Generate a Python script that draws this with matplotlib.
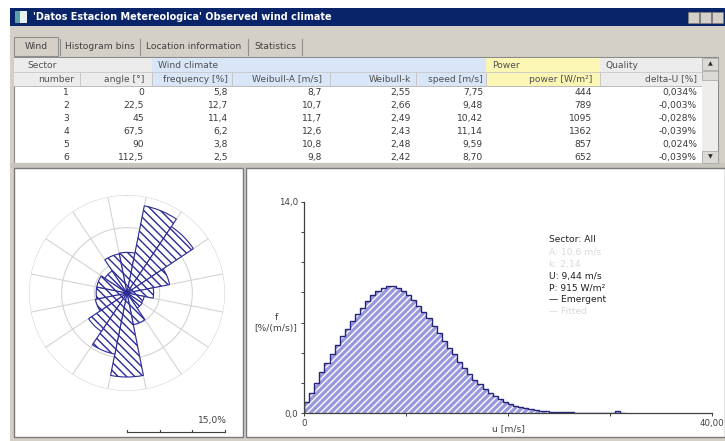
import matplotlib
matplotlib.use('Agg')
import matplotlib.pyplot as plt
import numpy as np
from matplotlib.patches import Rectangle

W, H = 725, 441

window_title = "'Datos Estacion Metereologica' Observed wind climate"
tab_names = ['Wind', 'Histogram bins', 'Location information', 'Statistics']
tab_centres = [36, 100, 194, 275]

# sector table (first six rows visible)
sector_angle = [0, 22.5, 45, 67.5, 90, 112.5]
weibull_a = [8.7, 10.7, 11.7, 12.6, 10.8, 9.8]
weibull_k = [2.55, 2.66, 2.49, 2.43, 2.48, 2.42]
mean_speed = [7.75, 9.48, 10.42, 11.14, 9.59, 8.70]
power_density = [444, 789, 1095, 1362, 857, 652]
delta_u = [0.034, -0.003, -0.028, -0.039, 0.024, -0.039]

# frequency of all 16 sectors [%]
sector_freq = [5.8, 12.7, 11.4, 6.2, 3.8, 2.5, 2.6, 4.6,
               12.0, 8.9, 6.6, 4.6, 4.4, 4.4, 3.8, 5.7]

# all-sector speed histogram, 0.5 m/s bins [%/(m/s)]
bin_width = 0.5
hist_freq = [0.7, 1.3, 2.0, 2.7, 3.3, 3.9, 4.5, 5.1, 5.6, 6.1,
             6.6, 7.0, 7.4, 7.8, 8.1, 8.3, 8.4, 8.4, 8.3, 8.1,
             7.8, 7.5, 7.1, 6.7, 6.3, 5.8, 5.3, 4.8, 4.3, 3.9,
             3.4, 3.0, 2.6, 2.2, 1.9, 1.6, 1.35, 1.1, 0.9, 0.75,
             0.6, 0.48, 0.38, 0.3, 0.24, 0.18, 0.14, 0.11, 0.09, 0.07,
             0.05, 0.08, 0.04, 0.03, 0.0, 0.0, 0.0, 0.0, 0.0, 0.0,
             0.0, 0.12, 0.0]

summary_lines = [('Sector: All', '#202020'), ('A: 10,6 m/s', '#d9d9d9'),
                 ('k: 2,14', '#d9d9d9'), ('U: 9,44 m/s', '#202020'),
                 ('P: 915 W/m\u00b2', '#202020'), ('\u2014 Emergent', '#202020'),
                 ('\u2014 Fitted', '#d9d9d9')]

plt.rcParams['font.family'] = ['DejaVu Sans']
FS = 6.6


def comma(v, d):
    return f'{v:.{d}f}'.replace('.', ',')


def px2fig(x0, y0, x1, y1):
    return [x0 / W, 1 - y1 / H, (x1 - x0) / W, (y1 - y0) / H]


fig = plt.figure(figsize=(W / 100, H / 100), dpi=100)
fig.patch.set_facecolor('white')
bg = fig.add_axes([0, 0, 1, 1])
bg.set_xlim(0, W)
bg.set_ylim(H, 0)
bg.axis('off')


def rect(x0, y0, x1, y1, fc, ec='none', lw=0.8, z=1):
    bg.add_patch(Rectangle((x0, y0), x1 - x0, y1 - y0, facecolor=fc,
                           edgecolor=ec, lw=lw, zorder=z))


def txt(x, y, s, ha='right', color='#3a3a3a', size=FS, **kw):
    bg.text(x, y, s, ha=ha, va='center', fontsize=size, color=color, zorder=5, **kw)


# window frame and title bar
rect(10, 8, W, H, '#d4d0c8')
rect(10, 8, W, 26, '#0a246a')
rect(15, 11, 27, 23, '#5aa0a8')
rect(20, 11, 27, 23, '#e8f0f0')
bg.text(33, 17, window_title, ha='left', va='center', fontsize=7,
        fontweight='bold', color='white', zorder=5)
for bx in (688, 700, 712):
    rect(bx, 12, bx + 11, 23, '#d4d0c8', ec='#808080', lw=0.6, z=2)

# tabs
rect(14, 37, 58, 56, '#d4d0c8', ec='#909090', lw=0.8, z=2)
for name, cx in zip(tab_names, tab_centres):
    txt(cx, 46.5, name, ha='center', color='#404040')
for sx in (60, 140, 248, 302):
    bg.plot([sx, sx], [39, 55], color='#909090', lw=0.8, zorder=3)

# table
rect(14, 57, 718, 163, 'white', ec='#8a8a8a', lw=0.8, z=2)
rect(14, 58, 152, 86, '#ececec', z=2)
rect(152, 58, 486, 86, '#d9e6f7', z=2)
rect(486, 58, 600, 86, '#fcf6b4', z=2)
rect(600, 58, 702, 86, '#ececec', z=2)
bg.plot([14, 702], [72, 72], color='#c8c8c8', lw=0.6, zorder=3)
bg.plot([14, 702], [86, 86], color='#b0b0b0', lw=0.6, zorder=3)
for sx in (80, 152, 232, 330, 416, 486, 600):
    bg.plot([sx, sx], [73, 85], color='#c0c0c0', lw=0.6, zorder=3)
txt(27, 65, 'Sector', ha='left', color='#505050')
txt(158, 65, 'Wind climate', ha='left', color='#505050')
txt(492, 65, 'Power', ha='left', color='#505050')
txt(606, 65, 'Quality', ha='left', color='#505050')

col_right = [74, 144, 228, 322, 411, 483, 592, 697]
headers = ['number', 'angle [\u00b0]', 'frequency [%]', 'Weibull-A [m/s]',
           'Weibull-k', 'speed [m/s]', 'power [W/m\u00b2]', 'delta-U [%]']
for x, h in zip(col_right, headers):
    txt(x, 79, h, color='#505050')

for i in range(len(sector_angle)):
    y = 92.5 + 13 * i
    row = [str(i + 1), f'{sector_angle[i]:g}'.replace('.', ','),
           comma(sector_freq[i], 1), comma(weibull_a[i], 1),
           comma(weibull_k[i], 2), comma(mean_speed[i], 2),
           str(power_density[i]), comma(delta_u[i], 3) + '%']
    for x, s in zip(col_right, row):
        txt(x if x != 74 else 69, y, s)

# scrollbar
rect(702, 58, 718, 163, '#eeede9', z=3)
rect(702, 58, 718, 70, '#dcdad4', ec='#a0a0a0', lw=0.5, z=4)
rect(702, 71, 718, 80, '#dcdad4', ec='#a0a0a0', lw=0.5, z=4)
rect(702, 151, 718, 163, '#dcdad4', ec='#a0a0a0', lw=0.5, z=4)
txt(710, 64, '\u25b2', ha='center', size=4.5, color='#303030')
txt(710, 157, '\u25bc', ha='center', size=4.5, color='#303030')

# lower panels
rect(10, 163, W, 168, '#c8c5bd', z=2)
rect(14, 168, 243, 437, 'white', ec='#7a7a7a', lw=1.0, z=2)
rect(246, 168, W, 437, 'white', ec='#7a7a7a', lw=1.0, z=2)

# wind rose
cx, cy, rad = 127, 293, 98
r_max = 14.0
ax_r = fig.add_axes(px2fig(cx - rad, cy - rad, cx + rad, cy + rad), projection='polar')
ax_r.set_facecolor('none')
ax_r.set_theta_zero_location('N')
ax_r.set_theta_direction(-1)
n_sec = len(sector_freq)
theta = np.deg2rad(np.arange(n_sec) * 360 / n_sec)
ax_r.bar(theta, sector_freq, width=2 * np.pi / n_sec, bottom=0,
         facecolor='white', edgecolor='#2a2a96', hatch='\\\\\\\\', linewidth=0.8)
ax_r.set_ylim(0, r_max)
ax_r.set_rgrids(np.linspace(0, r_max, 4)[1:], labels=[])
ax_r.set_thetagrids(np.arange(11.25, 360, 22.5), labels=[])
ax_r.grid(color='#d4d4d4', lw=0.8)
ax_r.set_axisbelow(True)
ax_r.spines['polar'].set_visible(False)

# rose scale bar
bg.plot([cx, cx + rad], [432, 432], color='#404040', lw=0.8, zorder=5)
for t in np.linspace(cx, cx + rad, 4):
    bg.plot([t, t], [429.5, 432], color='#404040', lw=0.8, zorder=5)
txt(cx + rad + 2, 420, '15,0%', color='#404040')

# speed histogram
ax_h = fig.add_axes(px2fig(304, 202, 712, 413))
ax_h.set_facecolor('none')
edges = np.arange(len(hist_freq) + 1) * bin_width
ax_h.bar(edges[:-1], hist_freq, width=bin_width, align='edge', facecolor='#9898dc',
         edgecolor='white', hatch='/////', linewidth=0)
ax_h.stairs(hist_freq, edges, color='#24247a', lw=1.0)
ax_h.set_xlim(0, 40)
ax_h.set_ylim(0, 14)
for side in ('top', 'right'):
    ax_h.spines[side].set_visible(False)
for side in ('left', 'bottom'):
    ax_h.spines[side].set_color('#404040')
    ax_h.spines[side].set_linewidth(0.9)
ax_h.set_yticks(range(0, 15, 2))
ax_h.set_yticklabels(['0,0'] + [''] * 6 + ['14,0'])
ax_h.set_xticks([0, 10, 20, 30, 40])
ax_h.set_xticklabels(['0', '', '', '', '40,00'])
ax_h.tick_params(direction='out', length=2.5, width=0.7, labelsize=6.2,
                 colors='#404040', pad=2)
ax_h.text(20, -0.072, 'u [m/s]', transform=ax_h.get_xaxis_transform(),
          ha='center', va='center', fontsize=FS, color='#404040')
txt(276, 318, 'f', ha='center', color='#404040')
txt(276, 329, '[%/(m/s)]', ha='center', color='#404040')

for j, (line, col) in enumerate(summary_lines):
    txt(549, 240 + 12 * j, line, ha='left', color=col)

fig.savefig('out.png', dpi=100)
